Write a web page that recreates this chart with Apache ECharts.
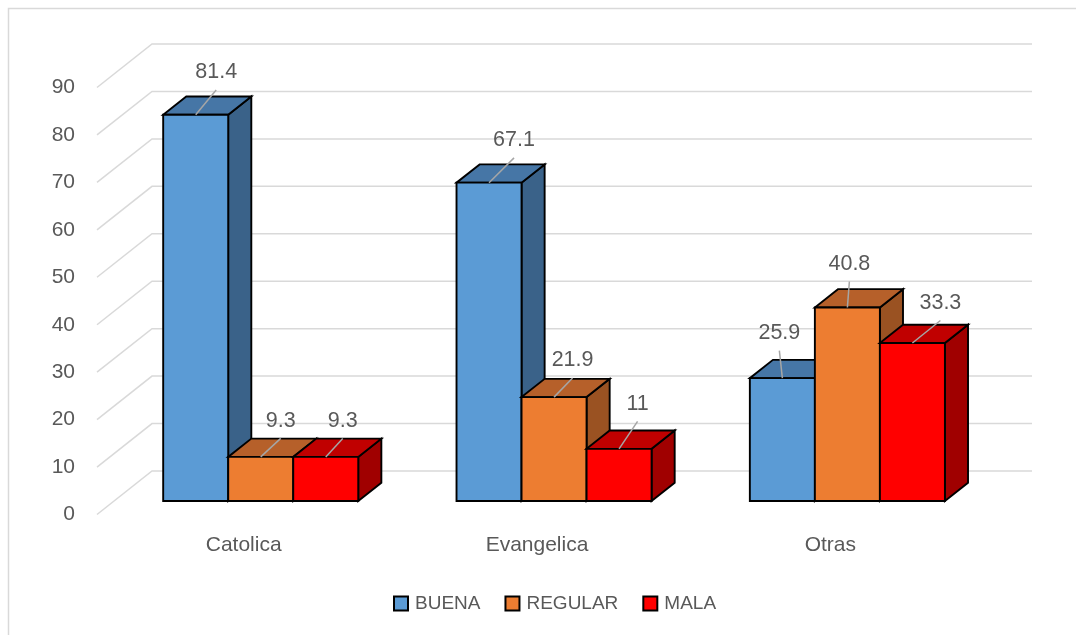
<!DOCTYPE html>
<html>
<head>
<meta charset="utf-8">
<title>BUENA / REGULAR / MALA</title>
<script src="https://cdn.jsdelivr.net/npm/echarts@6/dist/echarts.min.js"></script>
<style>
  html, body { margin: 0; padding: 0; background: #ffffff; }
  #chart { width: 1076px; height: 635px; }
</style>
</head>
<body>
<div id="chart"></div>
<script>
// ---- data ----
const categories = ['Catolica', 'Evangelica', 'Otras'];
const seriesNames = ['BUENA', 'REGULAR', 'MALA'];
const buena = [81.4, 67.1, 25.9];
const regular = [9.3, 21.9, 40.8];
const mala = [9.3, 11, 33.3];
const yTicks = [0, 10, 20, 30, 40, 50, 60, 70, 80, 90];

// ---- look ----
const FONT = '"Liberation Sans", Arial, sans-serif';
const TEXT = '#595959';
const FACES = [
  { front: '#5B9BD5', top: '#4676A6', side: '#3A6289' },
  { front: '#ED7D31', top: '#B6602A', side: '#9A5222' },
  { front: '#FF0000', top: '#C00000', side: '#A00000' }
];
const DEPTH = [55, -43.5];     // screen vector from front plane to back wall
const BAR_FRONT = 0.31;        // depth share where bar fronts sit
const BAR_BACK = 0.73;         // depth share where bar backs sit
const GROUP_SHARE = 0.665;     // part of a category taken by the three bars
// where each value label sits, relative to the top-centre of its bar (px)
const labelShift = [
  [[20.5, -42.3], [25, -42.3], [-3, -45]],
  [[20, -36], [18.5, -36.7], [2, -43.4]],
  [[17, -36], [18.5, -45], [28, -40]]
];

const values = [buena, regular, mala];

function gridRenderer(params, api) {
  const cs = params.coordSys;
  const y = api.coord([0, api.value(1)])[1];
  return {
    type: 'polyline',
    silent: true,
    shape: {
      points: [
        [cs.x, y],
        [cs.x + DEPTH[0], y + DEPTH[1]],
        [cs.x + cs.width + DEPTH[0], y + DEPTH[1]]
      ]
    },
    style: { stroke: '#D9D9D9', lineWidth: 1.5, fill: null }
  };
}

function barRenderer(s) {
  const face = FACES[s];
  return function (params, api) {
    const i = api.value(0);
    const v = api.value(1);
    const base = api.coord([i, 0]);
    const top = api.coord([i, v]);
    const barW = api.size([1, 0])[0] * GROUP_SHARE / 3;
    const fx = DEPTH[0] * BAR_FRONT, fy = DEPTH[1] * BAR_FRONT;
    const bx = DEPTH[0] * (BAR_BACK - BAR_FRONT), by = DEPTH[1] * (BAR_BACK - BAR_FRONT);
    const x0 = base[0] + fx - barW * 1.5 + s * barW;
    const x1 = x0 + barW;
    const y0 = base[1] + fy;
    const y1 = top[1] + fy;
    const edge = { stroke: '#000000', lineWidth: 1.9, lineJoin: 'miter' };
    const cx = (x0 + x1) / 2;
    const sh = labelShift[s][i];
    const lx = cx + sh[0], ly = y1 + sh[1];
    return {
      type: 'group',
      children: [
        {
          type: 'polygon',
          shape: { points: [[x1, y0], [x1 + bx, y0 + by], [x1 + bx, y1 + by], [x1, y1]] },
          style: Object.assign({ fill: face.side }, edge)
        },
        {
          type: 'polygon',
          shape: { points: [[x0, y1], [x1, y1], [x1 + bx, y1 + by], [x0 + bx, y1 + by]] },
          style: Object.assign({ fill: face.top }, edge)
        },
        {
          type: 'rect',
          shape: { x: x0, y: y1, width: barW, height: y0 - y1 },
          style: Object.assign({ fill: face.front }, edge)
        },
        {
          type: 'line',
          shape: { x1: cx, y1: y1, x2: lx, y2: ly + 17.5 },
          style: { stroke: '#A6A6A6', lineWidth: 1.5 }
        },
        {
          type: 'text',
          x: lx,
          y: ly,
          style: {
            text: String(v),
            align: 'center',
            verticalAlign: 'middle',
            fill: TEXT,
            fontSize: 21.5,
            fontFamily: FONT
          }
        }
      ]
    };
  };
}

const chart = echarts.init(document.getElementById('chart'), null, { renderer: 'canvas' });

const series = [
  {
    type: 'custom',
    name: 'grid-walls',
    renderItem: gridRenderer,
    data: yTicks.map(t => [0, t]),
    encode: { x: 0, y: 1 },
    clip: false,
    silent: true,
    z: 1
  }
];
seriesNames.forEach((name, s) => {
  series.push({
    type: 'custom',
    name: name,
    renderItem: barRenderer(s),
    data: values[s].map((v, i) => [i, v]),
    encode: { x: 0, y: 1 },
    clip: false,
    itemStyle: { color: FACES[s].front },
    z: 2
  });
});

chart.setOption({
  animation: false,
  backgroundColor: '#ffffff',
  color: FACES.map(f => f.front),
  graphic: [
    {
      type: 'rect',
      silent: true,
      shape: { x: 8.5, y: 8.5, width: 1200, height: 800 },
      style: { fill: 'none', stroke: '#D9D9D9', lineWidth: 1.5 }
    }
  ],
  grid: { left: 97, right: 99, top: 87.5, bottom: 120.5 },
  legend: {
    data: seriesNames,
    left: 388,
    top: 589,
    icon: 'rect',
    itemWidth: 14,
    itemHeight: 14,
    itemGap: 24,
    itemStyle: { borderColor: '#000000', borderWidth: 2 },
    textStyle: { color: TEXT, fontSize: 19, fontFamily: FONT, padding: [0, 0, 0, 2] }
  },
  xAxis: {
    type: 'category',
    data: categories,
    axisLine: { show: false },
    axisTick: { show: false },
    splitLine: { show: false },
    axisLabel: { color: TEXT, fontSize: 21, fontFamily: FONT, margin: 20 }
  },
  yAxis: {
    type: 'value',
    min: 0,
    max: 90,
    interval: 10,
    axisLine: { show: false },
    axisTick: { show: false },
    splitLine: { show: false },
    axisLabel: { color: TEXT, fontSize: 21, fontFamily: FONT, margin: 22 }
  },
  series: series
});
</script>
</body>
</html>
